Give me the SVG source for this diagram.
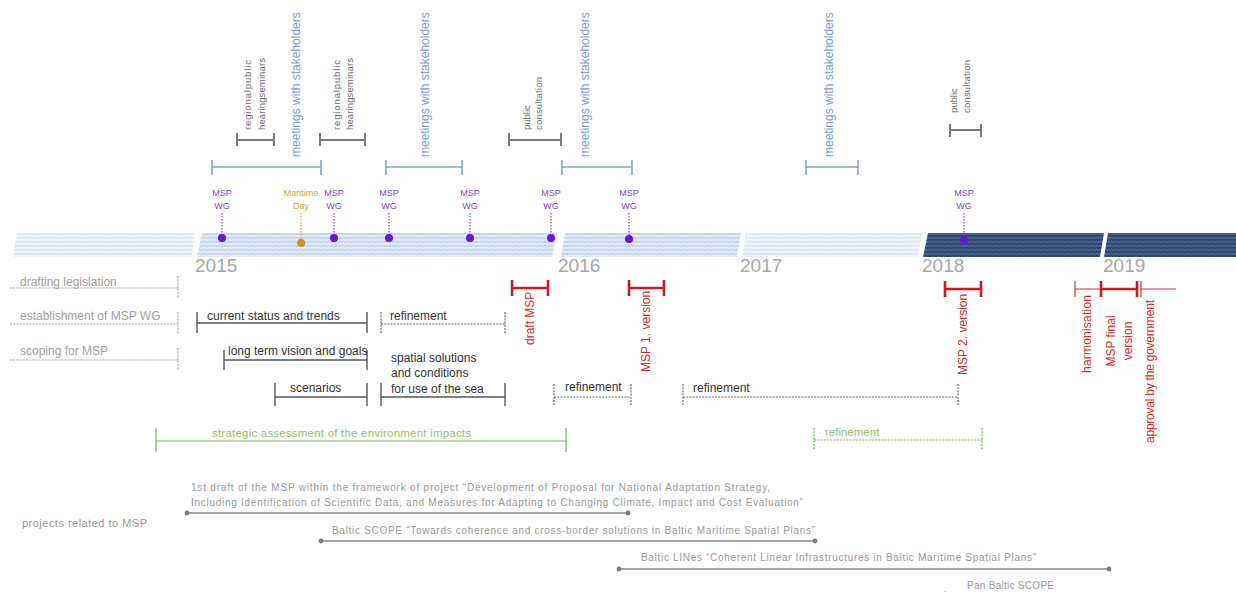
<svg xmlns="http://www.w3.org/2000/svg" width="1236" height="592" viewBox="0 0 1236 592">
<defs>
<pattern id="waveF" width="6" height="4" patternUnits="userSpaceOnUse"><rect width="6" height="4" fill="#f3f6fc"/><path d="M0 2.6 L1.5 1.2 L3 2.6 L4.5 1.2 L6 2.6" fill="none" stroke="#bccbe8" stroke-width="0.8"/></pattern>
<pattern id="waveL" width="6" height="4" patternUnits="userSpaceOnUse"><rect width="6" height="4" fill="#e6edf9"/><path d="M0 2.6 L1.5 1.2 L3 2.6 L4.5 1.2 L6 2.6" fill="none" stroke="#8ea8da" stroke-width="0.8"/></pattern>
<pattern id="waveD" width="6" height="4" patternUnits="userSpaceOnUse"><rect width="6" height="4" fill="#2c456e"/><path d="M0 2.6 L1.5 1.2 L3 2.6 L4.5 1.2 L6 2.6" fill="none" stroke="#7a90b8" stroke-width="0.8"/></pattern>
</defs>
<style>
text{font-family:"Liberation Sans",Arial,sans-serif}
.year{font-size:19px;fill:#a6a6a6}
.mspwg{font-size:9px;fill:#8a3ee0;text-anchor:middle}
.md{font-size:9px;fill:#d8a428;text-anchor:middle}
.blue{font-size:12px;fill:#7e9ad6}
.gray{font-size:9.5px;fill:#6a6a6a}
.row{font-size:12px;fill:#a0a0a0}
.blk{font-size:12px;fill:#333}
.grn{font-size:11.5px;fill:#8cc46c}
.red{font-size:12px;fill:#d42a2a}
.proj{font-size:10px;fill:#999}
.bl{stroke:#84a0dc;stroke-width:1.6;fill:none}
.gb{stroke:#7a7a7a;stroke-width:2;fill:none}
.bk{stroke:#555;stroke-width:1.4;fill:none}
.bkd{stroke:#666;stroke-width:1.2;fill:none;stroke-dasharray:2 1.2}
.rd{stroke:#a0a0a0;stroke-width:1.1;fill:none;stroke-dasharray:2 1.2}
.gn{stroke:#7ab650;stroke-width:1.2;fill:none}
.gnd{stroke:#7ab650;stroke-width:1.2;fill:none;stroke-dasharray:2 1.2}
.rt{stroke:#c81e1e;stroke-width:2.6;fill:none}
.rn{stroke:#d43030;stroke-width:1.2;fill:none}
.pl{stroke:#8a8a8a;stroke-width:1.3;fill:none}
.pd{fill:#7a7a7a}
.dot{stroke:#8a3ee0;stroke-width:1.2;stroke-dasharray:1.5 1.5}
</style>

<g id="band">
<polygon points="17,233 195,233 192,257 13,257" fill="url(#waveF)"/>
<polygon points="202,233 557,233 552,257 197,257" fill="url(#waveL)"/>
<polygon points="565,233 741,233 737,257 561,257" fill="url(#waveL)"/>
<polygon points="746,233 922,233 918,257 742,257" fill="url(#waveF)"/>
<polygon points="928,233 1104,233 1100,257 923,257" fill="url(#waveD)"/>
<polygon points="1108,233 1236,233 1236,257 1104,257" fill="url(#waveD)"/>
</g>

<g id="years">
<text class="year" x="195" y="272">2015</text>
<text class="year" x="558" y="272">2016</text>
<text class="year" x="740" y="272">2017</text>
<text class="year" x="922" y="272">2018</text>
<text class="year" x="1103" y="272">2019</text>
</g>

<g id="connectors">
<path class="bl" d="M212 167H321M212 160V175M321 160V175"/>
<path class="bl" d="M386 167H462M386 160V175M462 160V175"/>
<path class="bl" d="M562 167H632M562 160V175M632 160V175"/>
<path class="bl" d="M806 167H858M806 160V175M858 160V175"/>
<path class="gb" d="M237 140H274M237 133V146M274 133V146"/>
<path class="gb" d="M320 140H365M320 133V146M365 133V146"/>
<path class="gb" d="M509 140H561M509 133V146M561 133V146"/>
<path class="gb" d="M950 130H981M950 124V137M981 124V137"/>
<path class="dot" d="M222 213V236M334 213V236M389 213V236M470 213V236M551 213V236M629 213V237M964 213V238"/>
<path d="M301 213V240" stroke="#d8a428" stroke-width="1.2" stroke-dasharray="1.5 1.5"/>
<path class="rd" d="M10 288H178M178 276V298M10 324H178M178 312V334M10 360H178M178 348V370"/>
<path class="bk" d="M197 323H367M197 312V333M367 312V333"/>
<path class="bkd" d="M381 324H505M381 312V334M505 312V334"/>
<path class="bk" d="M224 360H367M224 350V370M367 350V370"/>
<path class="bk" d="M275 397H367M275 383V406M367 383V406"/>
<path class="bk" d="M381 397H505M381 383V406M505 383V406"/>
<path class="bkd" d="M554 397H631M554 384V405M631 384V405"/>
<path class="bkd" d="M683 397H958M683 384V405M958 384V405"/>
<path class="gn" d="M156 441H566M156 428V452M566 428V452"/>
<path class="gnd" d="M814 440H982M814 428V450M982 428V450"/>
<path class="rt" d="M512 288H548M512 280V296M548 280V296"/>
<path class="rt" d="M629 288H664M629 280V296M664 280V296"/>
<path class="rt" d="M945 289H981M945 281V297M981 281V297"/>
<path class="rn" d="M1075 289H1101M1075 281V297"/>
<path class="rt" d="M1101 289H1137M1101 281V297M1137 281V297"/>
<path class="rn" d="M1141 281V297M1141 289H1176"/>
<path class="pl" d="M187 513H628"/>
<circle class="pd" cx="187" cy="513" r="2.4"/><circle class="pd" cx="628" cy="513" r="2.4"/>
<path class="pl" d="M321 541H815"/>
<circle class="pd" cx="321" cy="541" r="2.4"/><circle class="pd" cx="815" cy="541" r="2.4"/>
<path class="pl" d="M619 569H1109"/>
<circle class="pd" cx="619" cy="569" r="2.4"/><circle class="pd" cx="1109" cy="569" r="2.4"/>
<circle class="pd" cx="945" cy="594" r="2.4"/>
</g>

<g id="stakeholders">
<text class="blue" transform="rotate(-90 300 157)" x="300" y="157">meetings with stakeholders</text>
<text class="blue" transform="rotate(-90 429 157)" x="429" y="157">meetings with stakeholders</text>
<text class="blue" transform="rotate(-90 589 157)" x="589" y="157">meetings with stakeholders</text>
<text class="blue" transform="rotate(-90 833 157)" x="833" y="157">meetings with stakeholders</text>
</g>

<g id="seminars">
<text class="gray" transform="rotate(-90 251 130)" x="251" y="130" textLength="70">regionalpublic</text>
<text class="gray" transform="rotate(-90 265 130)" x="265" y="130" textLength="72">hearingseminars</text>
<text class="gray" transform="rotate(-90 340 130)" x="340" y="130" textLength="70">regionalpublic</text>
<text class="gray" transform="rotate(-90 353 130)" x="353" y="130" textLength="72">hearingseminars</text>
</g>

<g id="consultations">
<text class="gray" transform="rotate(-90 530 130)" x="530" y="130">public</text>
<text class="gray" transform="rotate(-90 542 130)" x="542" y="130" textLength="53">consultation</text>
<text class="gray" transform="rotate(-90 957 113)" x="957" y="113">public</text>
<text class="gray" transform="rotate(-90 970 113)" x="970" y="113" textLength="53">consultation</text>
</g>

<g id="msp-wg">
<text class="mspwg" x="222" y="196">MSP</text><text class="mspwg" x="222" y="209">WG</text>
<text class="mspwg" x="334" y="196">MSP</text><text class="mspwg" x="334" y="209">WG</text>
<text class="mspwg" x="389" y="196">MSP</text><text class="mspwg" x="389" y="209">WG</text>
<text class="mspwg" x="470" y="196">MSP</text><text class="mspwg" x="470" y="209">WG</text>
<text class="mspwg" x="551" y="196">MSP</text><text class="mspwg" x="551" y="209">WG</text>
<text class="mspwg" x="629" y="196">MSP</text><text class="mspwg" x="629" y="209">WG</text>
<text class="mspwg" x="964" y="196">MSP</text><text class="mspwg" x="964" y="209">WG</text>
<g fill="#6a14d8">
<circle cx="222" cy="238" r="4"/><circle cx="334" cy="238" r="4"/><circle cx="389" cy="238" r="4"/><circle cx="470" cy="238" r="4"/><circle cx="551" cy="238" r="4"/><circle cx="629" cy="239" r="4"/><circle cx="964" cy="240" r="4"/>
</g>
</g>

<g id="maritime-day">
<text class="md" x="301" y="196">Maritime</text><text class="md" x="301" y="209">Day</text>
<circle cx="301" cy="243" r="4" fill="#c8961e"/>
</g>

<g id="rows">
<text class="row" x="20" y="286">drafting legislation</text>
<text class="row" x="20" y="320">establishment of MSP WG</text>
<text class="row" x="20" y="355">scoping for MSP</text>
</g>

<g id="tasks">
<text class="blk" x="207" y="320">current status and trends</text>
<text class="blk" x="390" y="320">refinement</text>
<text class="blk" x="228" y="355">long term vision and goals</text>
<text class="blk" x="290" y="392">scenarios</text>
<text class="blk" x="391" y="362">spatial solutions</text>
<text class="blk" x="391" y="377">and conditions</text>
<text class="blk" x="391" y="393">for use of the sea</text>
<text class="blk" x="565" y="391">refinement</text>
<text class="blk" x="693" y="392">refinement</text>
</g>

<g id="environment">
<text class="grn" x="212" y="437" textLength="259">strategic assessment of the environment impacts</text>
<text class="grn" x="825" y="436">refinement</text>
</g>

<g id="milestones">
<text class="red" transform="rotate(-90 534 345)" x="534" y="345">draft MSP</text>
<text class="red" transform="rotate(-90 650 372)" x="650" y="372">MSP 1. version</text>
<text class="red" transform="rotate(-90 967 375)" x="967" y="375">MSP 2. version</text>
<text class="red" transform="rotate(-90 1091 373)" x="1091" y="373" textLength="78">harmonisation</text>
<text class="red" transform="rotate(-90 1115 341)" x="1115" y="341" text-anchor="middle">MSP final</text>
<text class="red" transform="rotate(-90 1132 341)" x="1132" y="341" text-anchor="middle">version</text>
<text class="red" transform="rotate(-90 1154 443)" x="1154" y="443" textLength="143">approval by the government</text>
</g>

<g id="projects">
<text class="proj" x="22" y="527" style="font-size:11px" textLength="125">projects related to MSP</text>
<text class="proj" x="191" y="491" textLength="579">1st draft of the MSP within the framework of project “Development of Proposal for National Adaptation Strategy,</text>
<text class="proj" x="191" y="506" textLength="612">Including Identification of Scientific Data, and Measures for Adapting to Changing Climate, Impact and Cost Evaluation”</text>
<text class="proj" x="332" y="534" textLength="483">Baltic SCOPE “Towards coherence and cross-border solutions in Baltic Maritime Spatial Plans”</text>
<text class="proj" x="641" y="561" textLength="395">Baltic LINes “Coherent Linear Infrastructures in Baltic Maritime Spatial Plans”</text>
<text class="proj" x="967" y="589" textLength="87">Pan Baltic SCOPE</text>
</g>
</svg>
